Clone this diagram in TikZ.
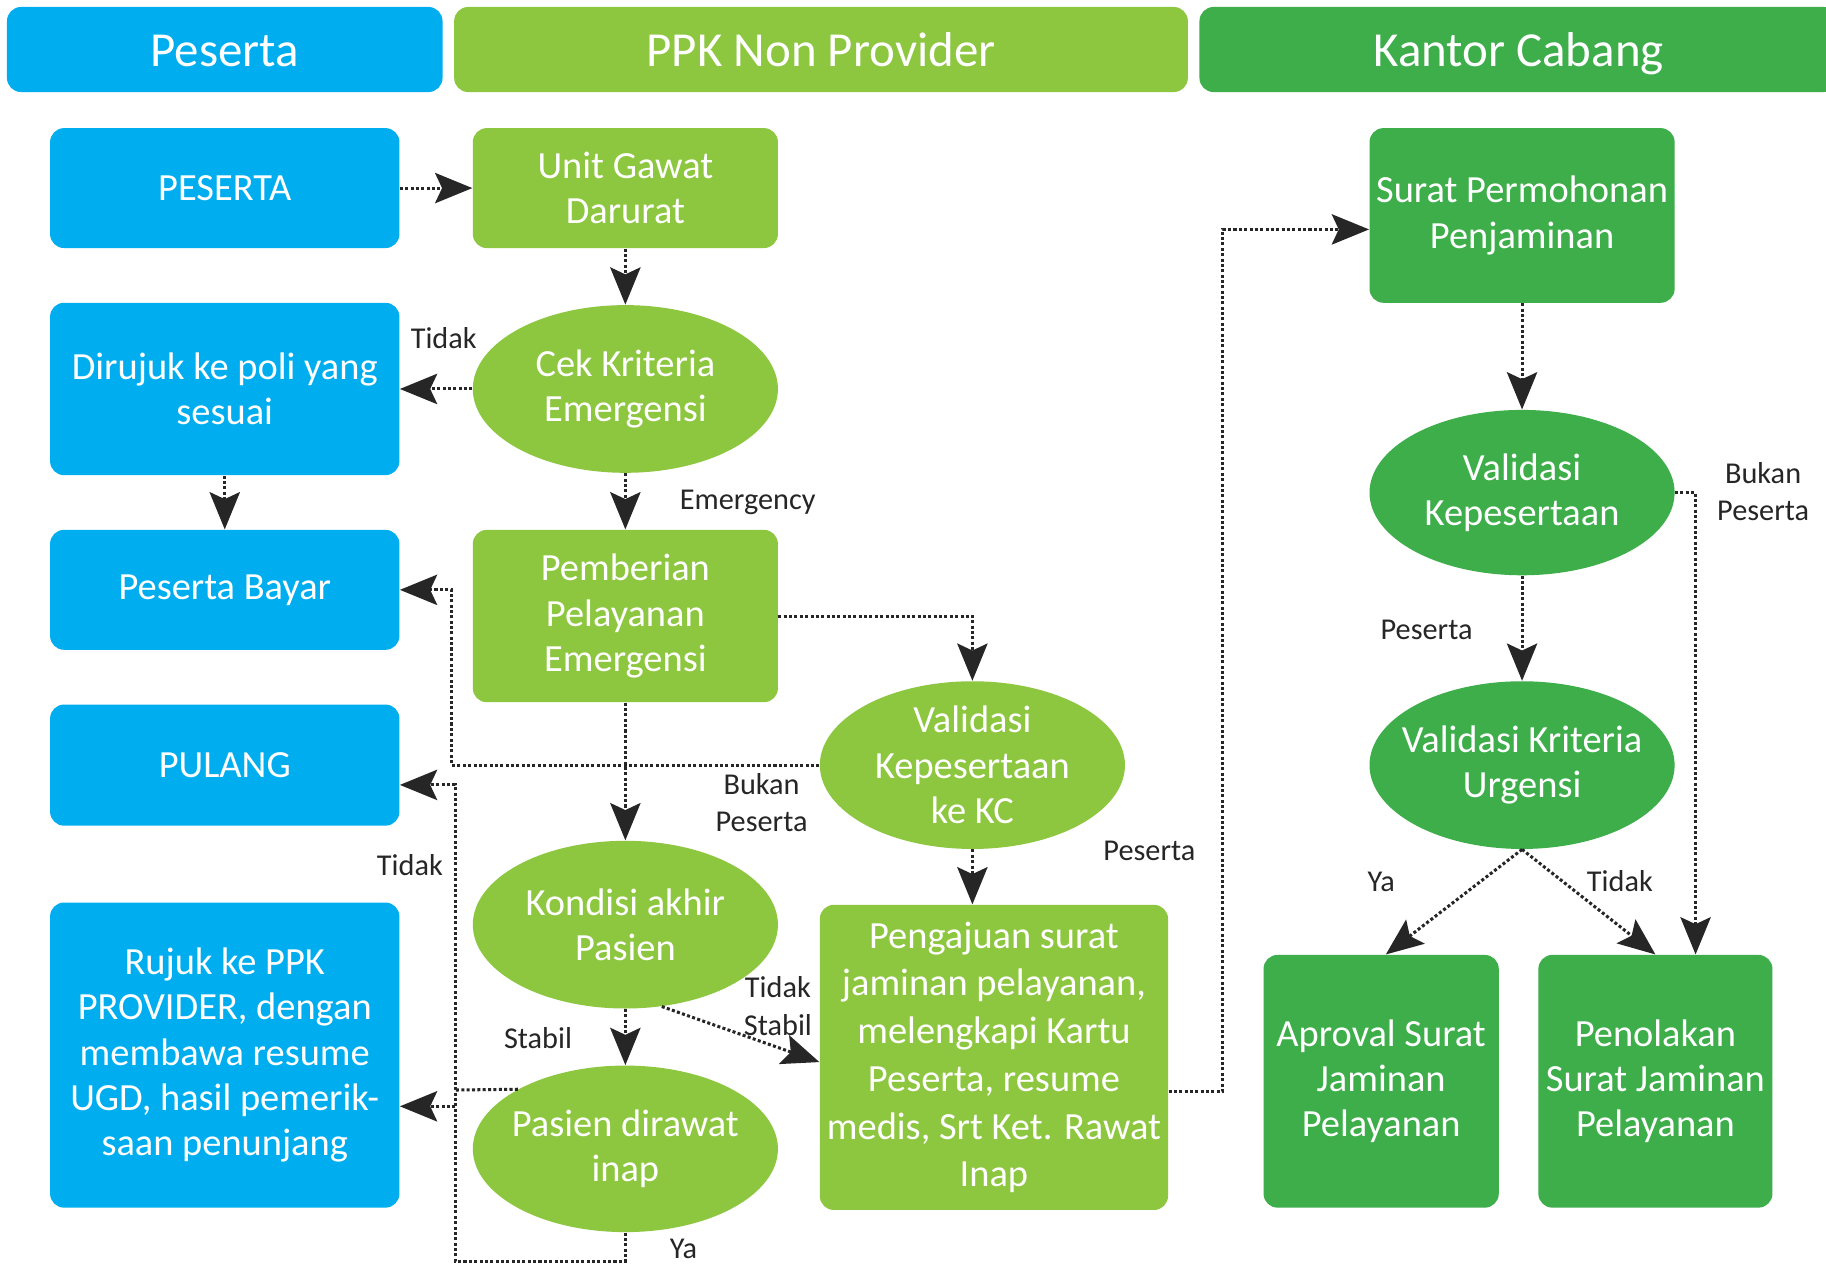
\documentclass[tikz,border=0pt]{standalone}
\usepackage{fontspec}
\setmainfont{Carlito}
\usetikzlibrary{arrows.meta,shapes.geometric,calc}
\definecolor{cblue}{HTML}{00AEEF}
\definecolor{clgreen}{HTML}{8DC63F}
\definecolor{cgreen}{HTML}{3DAE4A}
\newcommand\boxfont{\fontsize{16.5pt}{19.5pt}\selectfont}
\newcommand\hdrfont{\fontsize{21pt}{25pt}\selectfont}
\newcommand\lblfont{\fontsize{13pt}{16pt}\selectfont}
\tikzset{
  box/.style={rectangle, rounded corners=6pt, text=white, align=center, font=\boxfont, inner sep=0pt},
  ell/.style={ellipse, inner xsep=-30pt, inner ysep=-10pt, text=white, align=center, font=\boxfont},
  hdr/.style={rectangle, rounded corners=6pt, text=white, font=\hdrfont, inner sep=0pt, minimum height=36.5pt, text height=18pt, text depth=3pt},
  con/.style={densely dotted, line width=1.3pt, draw=black!85, -{Stealth[length=16pt,width=13pt,inset=3pt]}},
  lnk/.style={densely dotted, line width=1.3pt, draw=black!85},
  lbl/.style={font=\lblfont, text=black!85, align=center, inner sep=0pt},
}
\begin{document}
\begin{tikzpicture}[x=0.5pt,y=-0.5pt]
\useasboundingbox (0,0) rectangle (1568,1087);
\fill[white] (0,0) rectangle (1568,1087);
% headers
\node[hdr, fill=cblue, minimum width=187pt] (h1) at (193,42.5) {Peserta};
\node[hdr, fill=clgreen, minimum width=315pt] (h2) at (705,42.5) {PPK Non Provider};
\fill[cgreen] (1300,6) rectangle (1600,79);
\node[hdr, fill=cgreen, minimum width=274pt] (h3) at (1304,42.5) {Kantor Cabang};
% left column
\node[box, fill=cblue, minimum width=150pt, minimum height=51.5pt] (pes) at (193,161.5) {PESERTA};
\node[box, fill=cblue, minimum width=150pt, minimum height=74pt] (dir) at (193,334) {Dirujuk ke poli yang\\sesuai};
\node[box, fill=cblue, minimum width=150pt, minimum height=51.5pt] (bayar) at (193,506.5) {Peserta Bayar};
\node[box, fill=cblue, minimum width=150pt, minimum height=52pt] (pulang) at (193,657) {PULANG};
\node[box, fill=cblue, minimum width=150pt, minimum height=131pt] (rujuk) at (193,906) {Rujuk ke PPK\\PROVIDER, dengan\\membawa resume\\UGD, hasil pemerik-\\saan penunjang};
% middle column
\node[box, fill=clgreen, minimum width=131pt, minimum height=51.5pt] (ugd) at (537,161.5) {Unit Gawat\\Darurat};
\node[ell, fill=clgreen, minimum width=131pt, minimum height=72pt] (cek) at (537,334) {Cek Kriteria\\Emergensi};
\node[box, fill=clgreen, minimum width=131pt, minimum height=74pt] (pemb) at (537,529) {Pemberian\\Pelayanan\\Emergensi};
\node[ell, fill=clgreen, minimum width=131pt, minimum height=72pt] (kond) at (537,794) {Kondisi akhir\\Pasien};
\node[ell, fill=clgreen, minimum width=131pt, minimum height=71.5pt] (inap) at (537,986.5) {Pasien dirawat\\inap};
\node[ell, fill=clgreen, minimum width=131pt, minimum height=72pt] (valkc) at (835,657) {Validasi\\Kepesertaan\\ke KC};
\node[box, fill=clgreen, minimum width=149.5pt, minimum height=131pt, font=\fontsize{16.5pt}{20.5pt}\selectfont] (peng) at (853.5,908) {Pengajuan surat\\jaminan pelayanan,\\melengkapi Kartu\\Peserta, resume\\medis, Srt Ket. Rawat\\Inap};
% right column
\node[box, fill=cgreen, minimum width=131pt, minimum height=75pt] (surat) at (1307,185) {Surat Permohonan\\Penjaminan};
\node[ell, fill=cgreen, minimum width=131pt, minimum height=71pt] (valk) at (1307,423) {Validasi\\Kepesertaan};
\node[ell, fill=cgreen, minimum width=131pt, minimum height=72pt] (valu) at (1307,657) {Validasi Kriteria\\Urgensi};
\node[box, fill=cgreen, minimum width=101pt, minimum height=108.5pt] (apr) at (1186,928.5) {Aproval Surat\\Jaminan\\Pelayanan};
\node[box, fill=cgreen, minimum width=100.5pt, minimum height=108.5pt] (tolak) at (1421.5,928.5) {Penolakan\\Surat Jaminan\\Pelayanan};
% junction coordinates
\coordinate (j1) at (388,657);
\coordinate (j2) at (391,1083);
\coordinate (j2b) at (391,674);
\coordinate (j3) at (391,936);
\coordinate (j4) at (391,950);
\coordinate (j5) at (1050,937);
\coordinate (j6) at (1050,197);
\coordinate (j7) at (1456,423);
% connectors
\draw[con] (pes.east) -- (ugd.west);
\draw[con] (ugd.south) -- (cek.north);
\draw[con] (cek.west) -- (dir.east);
\draw[con] (dir.south) -- (bayar.north);
\draw[con] (cek.south) -- (pemb.north);
\draw[con] (pemb.east) -| (valkc.north);
\draw[con] (valkc.west) -- (j1) |- (bayar.east);
\draw[con] (pemb.south) -- (kond.north);
\draw[con] (valkc.south) -- (valkc.south |- peng.north);
\draw[con] (kond.south) -- (inap.north);
\draw[con] (kond.-66) -- ($(peng.west)+(0,4)$);
\draw[con] (inap.south) |- (j2) -- (j2b) -- (pulang.east |- j2b);
\draw[lnk] (inap.151) -- (j3);
\draw[con] (j4) -- (rujuk.east |- j4);
\draw[con] (peng.east |- j5) -- (j5) -- (j6) -- (surat.west |- j6);
\draw[con] (surat.south) -- (valk.north);
\draw[con] (valk.south) -- (valu.north);
\draw[con] (valk.east) -- (j7) -- (j7 |- tolak.north);
\draw[con] (valu.south) -- ($(apr.north)+(4,0)$);
\draw[con] (valu.south) -- (tolak.north);
% labels
\node[lbl] (l1) at (381,290) {Tidak};
\node[lbl] (l2) at (642,431) {Emergency};
\node[lbl] (l3) at (654,689) {Bukan\\Peserta};
\node[lbl] (l4) at (987,731) {Peserta};
\node[lbl] (l5) at (352,743) {Tidak};
\node[lbl] (l6) at (462,891) {Stabil};
\node[lbl] (l7) at (668,864) {Tidak\\Stabil};
\node[lbl] (l8) at (587,1072) {Ya};
\node[lbl] (l9) at (1514,422) {Bukan\\Peserta};
\node[lbl] (l10) at (1225,541) {Peserta};
\node[lbl] (l11) at (1186,757) {Ya};
\node[lbl] (l12) at (1391,757) {Tidak};
\end{tikzpicture}
\end{document}
